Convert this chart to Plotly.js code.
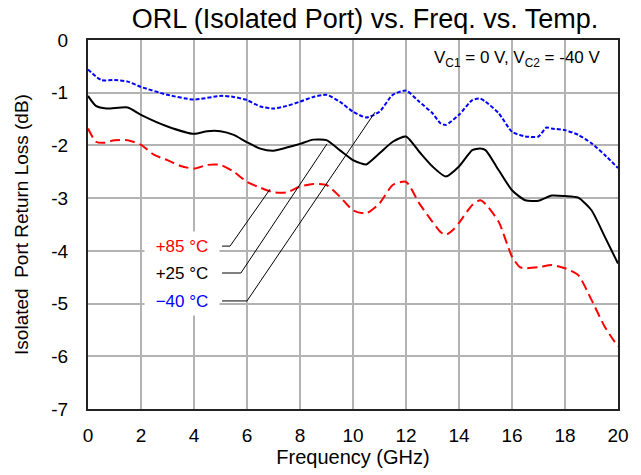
<!DOCTYPE html>
<html>
<head>
<meta charset="utf-8">
<script src="https://cdn.plot.ly/plotly-3.0.1.min.js"></script>
<style>html,body{margin:0;padding:0;background:#fff;}#chart{width:641px;height:475px;}</style>
</head>
<body>
<div id="chart"></div>
<script>
// Frequency (GHz) and isolated-port return loss (dB) per temperature
const freqM40 = [0,0.5,1,1.5,2,3,4,5,5.5,6,6.5,7,7.5,8,8.5,9,9.5,10,10.5,11,11.5,12,12.5,13,13.3,13.5,14,14.5,14.8,15,15.5,16,16.5,17,17.3,17.5,18,18.5,19,19.5,20];
const rlM40   = [-0.56,-0.76,-0.76,-0.79,-0.89,-1.04,-1.13,-1.06,-1.08,-1.14,-1.26,-1.30,-1.25,-1.17,-1.08,-1.04,-1.17,-1.36,-1.47,-1.36,-1.04,-0.96,-1.17,-1.39,-1.58,-1.61,-1.42,-1.14,-1.11,-1.17,-1.39,-1.74,-1.83,-1.83,-1.66,-1.68,-1.71,-1.80,-1.96,-2.18,-2.43];

const freqP25 = [0,0.3,0.7,1.5,2,3,4,4.5,5,5.5,6,6.5,7,7.5,8,8.5,9,9.5,10,10.3,10.5,11,11.5,12,12.5,13,13.5,14,14.5,14.8,15,15.5,16,16.5,17,17.5,18,18.5,19,19.5,20];
const rlP25   = [-1.06,-1.25,-1.30,-1.28,-1.42,-1.64,-1.78,-1.73,-1.73,-1.80,-1.94,-2.06,-2.10,-2.04,-1.97,-1.89,-1.90,-2.09,-2.28,-2.34,-2.36,-2.15,-1.93,-1.83,-2.12,-2.40,-2.59,-2.40,-2.09,-2.06,-2.09,-2.47,-2.85,-3.04,-3.05,-2.95,-2.96,-2.99,-3.23,-3.73,-4.24];

const freqP85 = [0,0.3,0.6,1,1.5,2,2.5,3,3.5,4,4.5,5,5.5,6,6.5,7,7.5,8,8.5,9,9.5,10,10.5,11,11.5,12,12.5,13,13.3,13.5,13.8,14,14.5,14.8,15,15.5,16,16.3,16.5,17,17.5,18,18.5,19,19.5,20];
const rlP85   = [-1.68,-1.93,-1.95,-1.90,-1.90,-1.99,-2.18,-2.28,-2.39,-2.44,-2.37,-2.37,-2.50,-2.69,-2.80,-2.89,-2.89,-2.78,-2.73,-2.75,-2.97,-3.23,-3.29,-3.10,-2.75,-2.69,-3.10,-3.45,-3.64,-3.70,-3.59,-3.47,-3.13,-3.04,-3.11,-3.45,-4.11,-4.31,-4.33,-4.31,-4.27,-4.33,-4.46,-4.93,-5.44,-5.82];

const seriesNames = ["+85 °C", "+25 °C", "\u221240 °C"];
const seriesColors = ["#ff0000", "#000000", "#0000ff"];
// Label anchor positions (GHz, dB) and leader line vertices
const labelX = [3.55, 3.55, 3.55];
const labelY = [-3.91, -4.42, -4.95];
const leaderX = [[5.06, 5.36, 6.87], [5.06, 5.77, 9.02], [5.06, 6.0, 10.83]];
const leaderY = [[-3.91, -3.91, -2.83], [-4.42, -4.42, -1.97], [-4.95, -4.95, -1.37]];

const xTicks = [0,2,4,6,8,10,12,14,16,18,20];
const yTicks = [0,-1,-2,-3,-4,-5,-6,-7];

const FONT = "Liberation Sans, Arial, sans-serif";

const traces = [
  {x: freqP85, y: rlP85, mode: "lines", line: {color: seriesColors[0], width: 2, dash: "10px,5px", shape: "spline", smoothing: 0.6}, name: seriesNames[0]},
  {x: freqP25, y: rlP25, mode: "lines", line: {color: seriesColors[1], width: 2, shape: "spline", smoothing: 0.6}, name: seriesNames[1]},
  {x: freqM40, y: rlM40, mode: "lines", line: {color: seriesColors[2], width: 2, dash: "4px,2px", shape: "spline", smoothing: 0.6}, name: seriesNames[2]}
];

const shapes = leaderX.map((xs, i) => ({
  type: "path", xref: "x", yref: "y",
  path: xs.map((xv, j) => (j === 0 ? "M" : "L") + xv + "," + leaderY[i][j]).join(" "),
  line: {color: "#000", width: 1}
}));

const annotations = seriesNames.map((n, i) => ({
  x: labelX[i], y: labelY[i], xref: "x", yref: "y", text: n, showarrow: false,
  font: {family: FONT, size: 17, color: seriesColors[i]},
  bgcolor: "#ffffff", width: 66, height: 20, borderpad: 4, align: "center"
}));
annotations.push({
  x: 0.972, y: 0.985, xref: "paper", yref: "paper", xanchor: "right", yanchor: "top",
  text: "V<sub>C1</sub> = 0 V, V<sub>C2</sub> = -40 V", showarrow: false,
  font: {family: FONT, size: 17, color: "#000"}
});

const layout = {
  width: 641, height: 475,
  margin: {l: 88, r: 23, t: 40, b: 66, pad: 0},
  paper_bgcolor: "#fff", plot_bgcolor: "#fff",
  showlegend: false,
  title: {text: "ORL (Isolated Port) vs. Freq. vs. Temp.", x: 365/641, xanchor: "center", xref: "container",
          y: 1 - 19/475, yanchor: "middle", yref: "container",
          font: {family: FONT, size: 27, color: "#000"}},
  xaxis: {
    range: [0, 20], tickvals: xTicks, ticktext: xTicks.map(String),
    showgrid: true, gridcolor: "#b3b3b3", gridwidth: 2,
    showline: true, linecolor: "#222", linewidth: 2, mirror: true,
    ticks: "", ticklabelstandoff: 8, zeroline: false,
    tickfont: {family: FONT, size: 19, color: "#000"},
    title: {text: "Frequency (GHz)", font: {family: FONT, size: 20, color: "#000"}, standoff: 4}
  },
  yaxis: {
    range: [-7, 0], tickvals: yTicks, ticktext: yTicks.map(String),
    showgrid: true, gridcolor: "#b3b3b3", gridwidth: 2,
    showline: true, linecolor: "#222", linewidth: 2, mirror: true,
    ticks: "", ticklabelstandoff: 14, zeroline: false,
    tickfont: {family: FONT, size: 19, color: "#000"},
    title: {text: "Isolated\u00a0 Port Return Loss (dB)", font: {family: FONT, size: 19, color: "#000"}, standoff: 18}
  },
  shapes: shapes,
  annotations: annotations
};

Plotly.newPlot("chart", traces, layout, {displayModeBar: false, staticPlot: true});
</script>
</body>
</html>
